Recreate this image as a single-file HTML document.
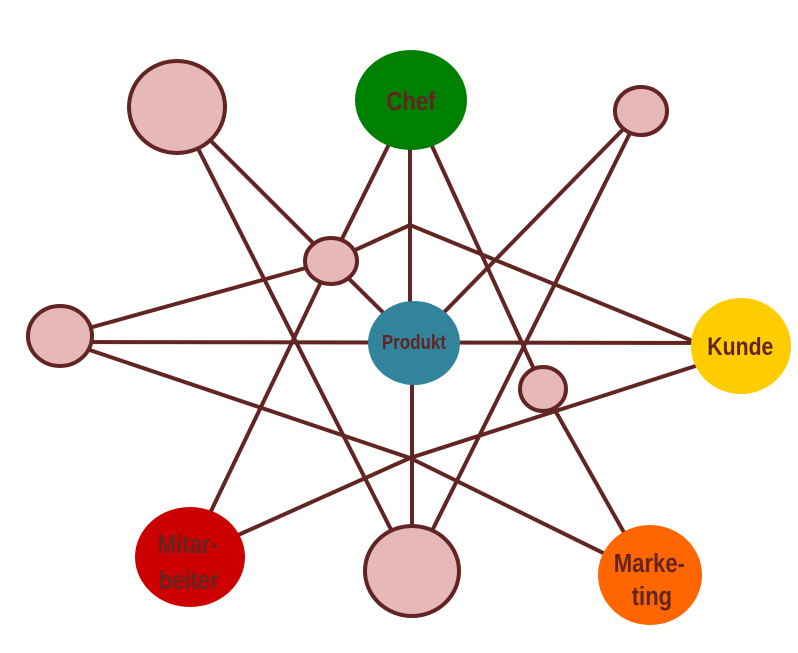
<!DOCTYPE html>
<html><head><meta charset="utf-8"><style>
html,body{margin:0;padding:0;background:#fff;width:798px;height:653px;overflow:hidden}
text{font-family:"Liberation Sans",sans-serif;font-weight:bold;fill:#632523;text-anchor:middle}
</style></head><body>
<svg width="798" height="653" viewBox="0 0 798 653">
<g stroke="#622523" stroke-width="4" fill="none" stroke-linecap="round">
<line x1="177" y1="107" x2="412" y2="571"/>
<line x1="177" y1="107" x2="331" y2="261"/>
<line x1="411" y1="100" x2="331" y2="261"/>
<line x1="410" y1="100" x2="410" y2="343"/>
<line x1="411" y1="100" x2="543" y2="389"/>
<line x1="641" y1="111" x2="414" y2="343"/>
<line x1="641" y1="111" x2="412" y2="571"/>
<polyline points="331,261 410,225 739,360"/>
<line x1="60" y1="336" x2="331" y2="261"/>
<line x1="60" y1="342" x2="739" y2="343"/>
<polyline points="60,340 410,458 648,575"/>
<line x1="331" y1="261" x2="189" y2="557"/>
<line x1="331" y1="261" x2="414" y2="343"/>
<line x1="412" y1="343" x2="412" y2="571"/>
<polyline points="739,352 410,458 189,557"/>
<line x1="543" y1="389" x2="648" y2="575"/>
</g>
<g stroke="#622523" stroke-width="4" fill="#e6b8b7">
<ellipse cx="177" cy="107" rx="48" ry="46"/>
<ellipse cx="641" cy="111" rx="26" ry="24"/>
<ellipse cx="331" cy="261" rx="26" ry="23"/>
<ellipse cx="60" cy="336" rx="32" ry="30"/>
<ellipse cx="543" cy="389" rx="23" ry="22"/>
<ellipse cx="412" cy="571" rx="47" ry="45"/>
</g>
<ellipse cx="411" cy="100" rx="56" ry="50" fill="#008000"/>
<ellipse cx="414" cy="343" rx="46" ry="42" fill="#31849b"/>
<ellipse cx="741" cy="346" rx="50" ry="48" fill="#ffcc00"/>
<ellipse cx="190" cy="557" rx="55" ry="50" fill="#cc0000"/>
<ellipse cx="650" cy="575" rx="52" ry="50" fill="#ff6600"/>
<g transform="scale(0.85,1)">
<text x="483.5" y="110" font-size="26">Chef</text>
<text x="487" y="349" font-size="20">Produkt</text>
<text x="871" y="355" font-size="25">Kunde</text>
<text x="221" y="553" font-size="26">Mitar-</text>
<text x="222" y="589" font-size="26">beiter</text>
<text x="764" y="572" font-size="26">Marke-</text>
<text x="767" y="605" font-size="26">ting</text>
</g>
</svg>
</body></html>
